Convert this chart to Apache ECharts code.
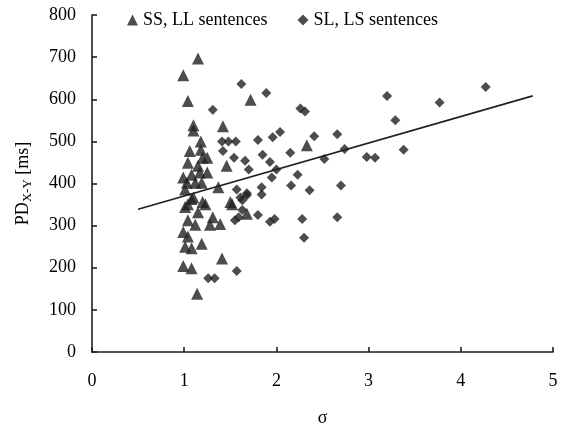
<!DOCTYPE html>
<html>
<head>
<meta charset="utf-8">
<script src="https://cdn.jsdelivr.net/npm/echarts@6/dist/echarts.min.js"></script>
<style>
  html, body { margin: 0; padding: 0; background: #fff; }
  #chart { width: 572px; height: 432px; }
</style>
</head>
<body>
<div id="chart"></div>
<script>
// Pause duration versus sigma, two sentence groups
const seriesNames = ['SS, LL sentences', 'SL, LS sentences'];

// [sigma, PD in ms] for SS / LL sentences
const ssLL = [
  [1.15, 697], [0.99, 657], [1.04, 596], [1.72, 599], [1.10, 538], [1.10, 526], [1.42, 536],
  [1.18, 500], [1.06, 477], [1.18, 480], [1.20, 461], [1.25, 461], [1.04, 449], [1.15, 442],
  [1.46, 442], [0.99, 414], [1.08, 421], [1.17, 426], [1.25, 426], [1.03, 402], [1.12, 402],
  [1.19, 402], [1.37, 391], [1.01, 386], [1.10, 367], [1.04, 351], [1.23, 351], [1.50, 356],
  [1.08, 363], [1.20, 356], [1.01, 344], [1.15, 332], [1.31, 320], [1.39, 304], [1.28, 302],
  [1.04, 313], [1.12, 302], [0.99, 285], [1.04, 274], [1.01, 250], [1.08, 246], [1.19, 257],
  [1.41, 222], [0.99, 204], [1.08, 199], [1.14, 138], [1.52, 351], [1.68, 328], [2.33, 491]
];

// [sigma, PD in ms] for SL / LS sentences
const slLS = [
  [1.62, 636], [1.89, 615], [1.31, 575], [2.26, 578], [2.31, 571], [3.20, 608], [4.27, 629],
  [3.77, 592], [3.29, 550], [1.41, 500], [1.48, 500], [1.56, 500], [1.42, 477], [1.54, 461],
  [1.80, 503], [1.96, 510], [2.04, 522], [2.41, 512], [2.66, 517], [2.15, 473], [1.66, 454],
  [1.70, 433], [1.85, 468], [1.93, 451], [2.00, 433], [1.95, 414], [2.23, 421], [2.74, 482],
  [2.52, 458], [2.98, 463], [3.07, 461], [3.38, 480], [1.57, 386], [1.61, 367], [1.68, 377],
  [1.84, 391], [1.84, 374], [2.16, 395], [2.36, 384], [2.70, 395], [1.63, 360], [1.68, 372],
  [1.55, 313], [1.59, 320], [1.80, 325], [1.93, 309], [1.98, 316], [2.28, 316], [2.66, 320],
  [2.30, 271], [1.26, 175], [1.33, 175], [1.57, 192], [1.63, 337]
];

// Linear trend line endpoints
const trend = [[0.5, 339], [4.78, 608]];

const xTicks = [0, 1, 2, 3, 4, 5];
const yTicks = [0, 100, 200, 300, 400, 500, 600, 700, 800];

const FONT = '"Liberation Serif", "Times New Roman", serif';
const FS = 18;
const INK = '#231f20';

const chart = echarts.init(document.getElementById('chart'), null, { renderer: 'canvas' });

chart.setOption({
  animation: false,
  backgroundColor: '#fff',
  textStyle: { fontFamily: FONT, color: '#000' },
  grid: { left: 92, right: 19, top: 15, bottom: 75, containLabel: false },
  legend: {
    top: 6,
    left: 122,
    itemGap: 30,
    itemWidth: 11,
    itemHeight: 11,
    textStyle: { fontFamily: FONT, fontSize: FS, color: '#000' },
    data: [
      { name: seriesNames[0], icon: 'triangle' },
      { name: seriesNames[1], icon: 'diamond' }
    ]
  },
  xAxis: {
    type: 'value',
    min: xTicks[0],
    max: xTicks[xTicks.length - 1],
    interval: 1,
    name: 'σ',
    nameLocation: 'middle',
    nameGap: 57,
    nameTextStyle: { fontFamily: FONT, fontSize: FS, color: '#000' },
    axisLine: { lineStyle: { color: INK, width: 1.6 } },
    axisTick: { inside: true, length: 5, lineStyle: { color: INK, width: 1.6 } },
    axisLabel: { fontFamily: FONT, fontSize: FS, color: '#000', margin: 20 },
    splitLine: { show: false }
  },
  yAxis: {
    type: 'value',
    min: yTicks[0],
    max: yTicks[yTicks.length - 1],
    interval: 100,
    name: '{m|PD}{s|X-Y}{m| [ms]}',
    nameLocation: 'middle',
    nameRotate: 90,
    nameGap: 58,
    nameTextStyle: {
      fontFamily: FONT,
      color: '#000',
      rich: {
        m: { fontFamily: FONT, fontSize: FS, color: '#000' },
        s: { fontFamily: FONT, fontSize: 13, color: '#000', padding: [9, 0, 0, 0] }
      }
    },
    axisLine: { lineStyle: { color: INK, width: 1.6 } },
    axisTick: { inside: true, length: 5, lineStyle: { color: INK, width: 1.6 } },
    axisLabel: { fontFamily: FONT, fontSize: FS, color: '#000', margin: 16 },
    splitLine: { show: false }
  },
  series: [
    {
      name: seriesNames[0],
      type: 'scatter',
      symbol: 'triangle',
      symbolSize: 12,
      itemStyle: { color: INK },
      data: ssLL,
      z: 3
    },
    {
      name: seriesNames[1],
      type: 'scatter',
      symbol: 'diamond',
      symbolSize: 10,
      itemStyle: { color: INK },
      data: slLS,
      z: 3
    },
    {
      name: 'trend',
      type: 'line',
      data: trend,
      symbol: 'none',
      lineStyle: { color: INK, width: 1.6 },
      z: 4,
      silent: true
    }
  ]
});
</script>
</body>
</html>
